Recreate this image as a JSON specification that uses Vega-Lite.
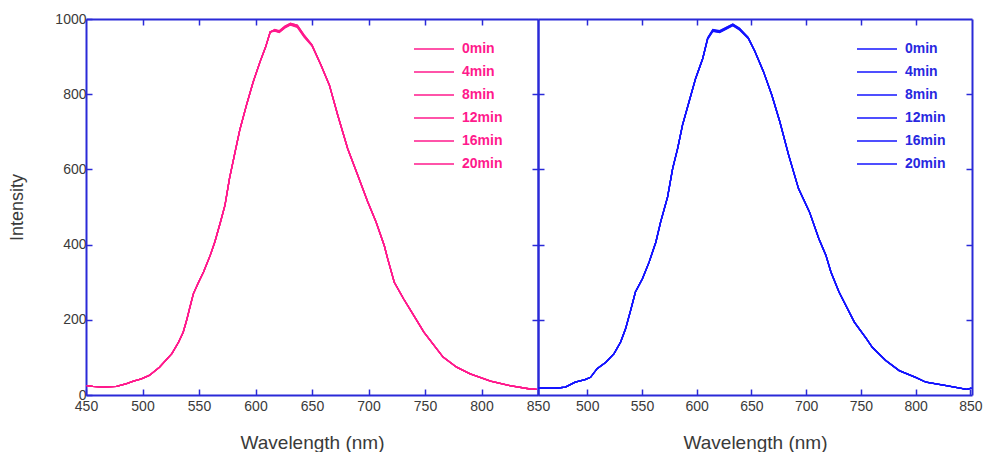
{
  "$schema": "https://vega.github.io/schema/vega-lite/v6.json",
  "padding": {"left": 8, "top": 12, "right": 5, "bottom": 0},
  "background": "white",
  "spacing": 0,
  "bounds": "flush",
  "datasets": {
    "left": [
      {"wl": 450.6, "0min": 25, "4min": 25, "8min": 25, "12min": 25, "16min": 25, "20min": 25},
      {"wl": 456, "0min": 23, "4min": 23, "8min": 23, "12min": 23, "16min": 23, "20min": 23},
      {"wl": 465, "0min": 21, "4min": 21, "8min": 21, "12min": 21, "16min": 21, "20min": 21},
      {"wl": 477, "0min": 23, "4min": 23, "8min": 23, "12min": 23, "16min": 23, "20min": 23},
      {"wl": 486, "0min": 30, "4min": 30, "8min": 30, "12min": 30, "16min": 30, "20min": 30},
      {"wl": 492, "0min": 37, "4min": 37, "8min": 37, "12min": 37, "16min": 37, "20min": 37},
      {"wl": 499, "0min": 43, "4min": 43, "8min": 43, "12min": 43, "16min": 43, "20min": 43},
      {"wl": 506, "0min": 52, "4min": 52, "8min": 52, "12min": 52, "16min": 52, "20min": 52},
      {"wl": 515, "0min": 74, "4min": 74, "8min": 74, "12min": 74, "16min": 74, "20min": 74},
      {"wl": 526, "0min": 110, "4min": 110, "8min": 110, "12min": 110, "16min": 110, "20min": 110},
      {"wl": 532, "0min": 141, "4min": 141, "8min": 141, "12min": 141, "16min": 141, "20min": 141},
      {"wl": 536, "0min": 167, "4min": 167, "8min": 167, "12min": 167, "16min": 167, "20min": 167},
      {"wl": 539, "0min": 198, "4min": 198, "8min": 198, "12min": 198, "16min": 198, "20min": 198},
      {"wl": 542, "0min": 234, "4min": 234, "8min": 234, "12min": 234, "16min": 234, "20min": 234},
      {"wl": 545, "0min": 269, "4min": 269, "8min": 269, "12min": 269, "16min": 269, "20min": 269},
      {"wl": 549, "0min": 296, "4min": 296, "8min": 296, "12min": 296, "16min": 296, "20min": 296},
      {"wl": 554, "0min": 327, "4min": 327, "8min": 327, "12min": 327, "16min": 327, "20min": 327},
      {"wl": 560, "0min": 372, "4min": 372, "8min": 372, "12min": 372, "16min": 372, "20min": 372},
      {"wl": 564, "0min": 407, "4min": 407, "8min": 407, "12min": 407, "16min": 407, "20min": 407},
      {"wl": 569, "0min": 460, "4min": 460, "8min": 460, "12min": 460, "16min": 460, "20min": 460},
      {"wl": 573, "0min": 505, "4min": 505, "8min": 505, "12min": 505, "16min": 505, "20min": 505},
      {"wl": 577, "0min": 576, "4min": 576, "8min": 576, "12min": 576, "16min": 576, "20min": 576},
      {"wl": 582, "0min": 647, "4min": 647, "8min": 647, "12min": 647, "16min": 647, "20min": 647},
      {"wl": 586, "0min": 704, "4min": 704, "8min": 704, "12min": 704, "16min": 704, "20min": 704},
      {"wl": 592, "0min": 771, "4min": 771, "8min": 771, "12min": 771, "16min": 771, "20min": 771},
      {"wl": 598, "0min": 833, "4min": 833, "8min": 833, "12min": 833, "16min": 833, "20min": 833},
      {"wl": 604, "0min": 886, "4min": 886, "8min": 886, "12min": 886, "16min": 886, "20min": 886},
      {"wl": 609, "0min": 926, "4min": 926, "8min": 926, "12min": 926, "16min": 926, "20min": 926},
      {"wl": 613, "0min": 966, "4min": 966, "8min": 965, "12min": 966, "16min": 964, "20min": 965},
      {"wl": 617, "0min": 971, "4min": 970, "8min": 972, "12min": 969, "16min": 971, "20min": 968},
      {"wl": 621, "0min": 968, "4min": 966, "8min": 969, "12min": 965, "16min": 967, "20min": 964},
      {"wl": 626, "0min": 980, "4min": 978, "8min": 981, "12min": 977, "16min": 979, "20min": 976},
      {"wl": 631, "0min": 988, "4min": 986, "8min": 989, "12min": 985, "16min": 987, "20min": 984},
      {"wl": 637, "0min": 984, "4min": 981, "8min": 983, "12min": 979, "16min": 982, "20min": 978},
      {"wl": 643, "0min": 957, "4min": 955, "8min": 958, "12min": 953, "16min": 956, "20min": 952},
      {"wl": 650, "0min": 931, "4min": 930, "8min": 931, "12min": 929, "16min": 930, "20min": 928},
      {"wl": 658, "0min": 877, "4min": 877, "8min": 877, "12min": 877, "16min": 877, "20min": 877},
      {"wl": 665.4, "0min": 824, "4min": 824, "8min": 824, "12min": 824, "16min": 824, "20min": 824},
      {"wl": 672.8, "0min": 744, "4min": 744, "8min": 744, "12min": 744, "16min": 744, "20min": 744},
      {"wl": 681.6, "0min": 655, "4min": 655, "8min": 655, "12min": 655, "16min": 655, "20min": 655},
      {"wl": 690.4, "0min": 585, "4min": 585, "8min": 585, "12min": 585, "16min": 585, "20min": 585},
      {"wl": 699.3, "0min": 514, "4min": 514, "8min": 514, "12min": 514, "16min": 514, "20min": 514},
      {"wl": 706.7, "0min": 460, "4min": 460, "8min": 460, "12min": 460, "16min": 460, "20min": 460},
      {"wl": 714, "0min": 397, "4min": 397, "8min": 397, "12min": 397, "16min": 397, "20min": 397},
      {"wl": 717, "0min": 362, "4min": 362, "8min": 362, "12min": 362, "16min": 362, "20min": 362},
      {"wl": 722.8, "0min": 300, "4min": 300, "8min": 300, "12min": 300, "16min": 300, "20min": 300},
      {"wl": 731, "0min": 256, "4min": 256, "8min": 256, "12min": 256, "16min": 256, "20min": 256},
      {"wl": 740, "0min": 212, "4min": 212, "8min": 212, "12min": 212, "16min": 212, "20min": 212},
      {"wl": 749, "0min": 167, "4min": 167, "8min": 167, "12min": 167, "16min": 167, "20min": 167},
      {"wl": 758, "0min": 132, "4min": 132, "8min": 132, "12min": 132, "16min": 132, "20min": 132},
      {"wl": 766, "0min": 101, "4min": 101, "8min": 101, "12min": 101, "16min": 101, "20min": 101},
      {"wl": 778, "0min": 74, "4min": 74, "8min": 74, "12min": 74, "16min": 74, "20min": 74},
      {"wl": 790, "0min": 56, "4min": 56, "8min": 56, "12min": 56, "16min": 56, "20min": 56},
      {"wl": 808, "0min": 37, "4min": 37, "8min": 37, "12min": 37, "16min": 37, "20min": 37},
      {"wl": 825, "0min": 25, "4min": 25, "8min": 25, "12min": 25, "16min": 25, "20min": 25},
      {"wl": 843, "0min": 16, "4min": 16, "8min": 16, "12min": 16, "16min": 16, "20min": 16},
      {"wl": 849, "0min": 15, "4min": 15, "8min": 15, "12min": 15, "16min": 15, "20min": 15}
    ],
    "right": [
      {"wl": 455.5, "0min": 18, "4min": 18, "8min": 18, "12min": 18, "16min": 18, "20min": 18},
      {"wl": 470.8, "0min": 18, "4min": 18, "8min": 18, "12min": 18, "16min": 18, "20min": 18},
      {"wl": 480, "0min": 21, "4min": 21, "8min": 21, "12min": 21, "16min": 21, "20min": 21},
      {"wl": 489, "0min": 34, "4min": 34, "8min": 34, "12min": 34, "16min": 34, "20min": 34},
      {"wl": 498, "0min": 41, "4min": 41, "8min": 41, "12min": 41, "16min": 41, "20min": 41},
      {"wl": 503, "0min": 47, "4min": 47, "8min": 47, "12min": 47, "16min": 47, "20min": 47},
      {"wl": 509, "0min": 70, "4min": 70, "8min": 70, "12min": 70, "16min": 70, "20min": 70},
      {"wl": 517, "0min": 87, "4min": 87, "8min": 87, "12min": 87, "16min": 87, "20min": 87},
      {"wl": 524.5, "0min": 110, "4min": 110, "8min": 110, "12min": 110, "16min": 110, "20min": 110},
      {"wl": 530.5, "0min": 141, "4min": 141, "8min": 141, "12min": 141, "16min": 141, "20min": 141},
      {"wl": 535, "0min": 176, "4min": 176, "8min": 176, "12min": 176, "16min": 176, "20min": 176},
      {"wl": 540, "0min": 229, "4min": 229, "8min": 229, "12min": 229, "16min": 229, "20min": 229},
      {"wl": 544, "0min": 274, "4min": 274, "8min": 274, "12min": 274, "16min": 274, "20min": 274},
      {"wl": 550.4, "0min": 309, "4min": 309, "8min": 309, "12min": 309, "16min": 309, "20min": 309},
      {"wl": 556.6, "0min": 354, "4min": 354, "8min": 354, "12min": 354, "16min": 354, "20min": 354},
      {"wl": 562.7, "0min": 407, "4min": 407, "8min": 407, "12min": 407, "16min": 407, "20min": 407},
      {"wl": 567, "0min": 460, "4min": 460, "8min": 460, "12min": 460, "16min": 460, "20min": 460},
      {"wl": 573.4, "0min": 527, "4min": 527, "8min": 527, "12min": 527, "16min": 527, "20min": 527},
      {"wl": 578, "0min": 602, "4min": 602, "8min": 602, "12min": 602, "16min": 602, "20min": 602},
      {"wl": 582.6, "0min": 656, "4min": 656, "8min": 656, "12min": 656, "16min": 656, "20min": 656},
      {"wl": 587, "0min": 718, "4min": 718, "8min": 718, "12min": 718, "16min": 718, "20min": 718},
      {"wl": 593, "0min": 780, "4min": 780, "8min": 780, "12min": 780, "16min": 780, "20min": 780},
      {"wl": 599, "0min": 842, "4min": 842, "8min": 842, "12min": 842, "16min": 842, "20min": 842},
      {"wl": 605.5, "0min": 895, "4min": 895, "8min": 895, "12min": 895, "16min": 895, "20min": 895},
      {"wl": 610, "0min": 949, "4min": 948, "8min": 950, "12min": 947, "16min": 949, "20min": 946},
      {"wl": 614.7, "0min": 971, "4min": 969, "8min": 972, "12min": 968, "16min": 970, "20min": 967},
      {"wl": 621, "0min": 968, "4min": 966, "8min": 969, "12min": 965, "16min": 967, "20min": 964},
      {"wl": 627, "0min": 977, "4min": 975, "8min": 978, "12min": 974, "16min": 976, "20min": 973},
      {"wl": 633, "0min": 986, "4min": 984, "8min": 987, "12min": 983, "16min": 985, "20min": 982},
      {"wl": 639, "0min": 975, "4min": 973, "8min": 976, "12min": 972, "16min": 974, "20min": 971},
      {"wl": 647, "0min": 951, "4min": 950, "8min": 951, "12min": 949, "16min": 950, "20min": 948},
      {"wl": 653, "0min": 915, "4min": 915, "8min": 915, "12min": 915, "16min": 915, "20min": 915},
      {"wl": 661, "0min": 860, "4min": 860, "8min": 860, "12min": 860, "16min": 860, "20min": 860},
      {"wl": 668.6, "0min": 798, "4min": 798, "8min": 798, "12min": 798, "16min": 798, "20min": 798},
      {"wl": 676, "0min": 726, "4min": 726, "8min": 726, "12min": 726, "16min": 726, "20min": 726},
      {"wl": 684, "0min": 638, "4min": 638, "8min": 638, "12min": 638, "16min": 638, "20min": 638},
      {"wl": 693, "0min": 549, "4min": 549, "8min": 549, "12min": 549, "16min": 549, "20min": 549},
      {"wl": 703, "0min": 487, "4min": 487, "8min": 487, "12min": 487, "16min": 487, "20min": 487},
      {"wl": 711.5, "0min": 416, "4min": 416, "8min": 416, "12min": 416, "16min": 416, "20min": 416},
      {"wl": 718, "0min": 372, "4min": 372, "8min": 372, "12min": 372, "16min": 372, "20min": 372},
      {"wl": 722.6, "0min": 327, "4min": 327, "8min": 327, "12min": 327, "16min": 327, "20min": 327},
      {"wl": 730, "0min": 274, "4min": 274, "8min": 274, "12min": 274, "16min": 274, "20min": 274},
      {"wl": 744, "0min": 194, "4min": 194, "8min": 194, "12min": 194, "16min": 194, "20min": 194},
      {"wl": 755, "0min": 150, "4min": 150, "8min": 150, "12min": 150, "16min": 150, "20min": 150},
      {"wl": 760.4, "0min": 127, "4min": 127, "8min": 127, "12min": 127, "16min": 127, "20min": 127},
      {"wl": 772.7, "0min": 92, "4min": 92, "8min": 92, "12min": 92, "16min": 92, "20min": 92},
      {"wl": 785, "0min": 65, "4min": 65, "8min": 65, "12min": 65, "16min": 65, "20min": 65},
      {"wl": 800, "0min": 47, "4min": 47, "8min": 47, "12min": 47, "16min": 47, "20min": 47},
      {"wl": 809.5, "0min": 34, "4min": 34, "8min": 34, "12min": 34, "16min": 34, "20min": 34},
      {"wl": 828, "0min": 25, "4min": 25, "8min": 25, "12min": 25, "16min": 25, "20min": 25},
      {"wl": 846.6, "0min": 15, "4min": 15, "8min": 15, "12min": 15, "16min": 15, "20min": 15},
      {"wl": 851, "0min": 18, "4min": 18, "8min": 18, "12min": 18, "16min": 18, "20min": 18}
    ]
  },
  "config": {
    "view": {"stroke": null},
    "axis": {
      "domainColor": "#2a2ad8", "domainWidth": 2, "tickColor": "#2a2ad8", "tickWidth": 1.5, "tickSize": -6,
      "grid": false, "labelFont": "Liberation Sans", "labelFontSize": 14, "labelColor": "#3a3a3a",
      "titleFont": "Liberation Sans", "titleColor": "#3a3a3a", "titleFontWeight": "normal"
    },
    "legend": {
      "orient": "none", "symbolType": "stroke", "symbolSize": 1600, "symbolStrokeWidth": 1.5,
      "labelFont": "Liberation Sans", "labelFontSize": 14, "labelFontWeight": "bold",
      "rowPadding": 7, "clipHeight": 16, "padding": 0, "labelOffset": 7, "title": null
    }
  },
  "hconcat": [
    {
      "width": 452, "height": 376,
      "data": {"name": "left"},
      "transform": [{"fold": ["0min", "4min", "8min", "12min", "16min", "20min"], "as": ["t", "i"]}],
      "layer": [
        {
          "mark": {"type": "line", "strokeWidth": 1.3, "clip": true},
          "encoding": {
            "x": {"field": "wl", "type": "quantitative", "scale": {"domain": [450, 850], "nice": false},
                  "axis": {"orient": "bottom", "values": [450, 500, 550, 600, 650, 700, 750, 800, 850], "title": "Wavelength (nm)", "titleFontSize": 19, "titlePadding": 20, "labelPadding": 10, "labelFlush": false, "labelOverlap": false}},
            "y": {"field": "i", "type": "quantitative", "scale": {"domain": [0, 1000], "nice": false},
                  "axis": {"orient": "left", "format": "d", "values": [0, 200, 400, 600, 800, 1000], "title": "Intensity", "titleFontSize": 18, "titlePadding": 10, "labelPadding": 6, "minExtent": 50, "maxExtent": 50}},
            "color": {"field": "t", "type": "nominal",
                      "scale": {"domain": ["0min", "4min", "8min", "12min", "16min", "20min"], "range": ["#ff1a8c", "#ff1a8c", "#ff1a8c", "#ff1a8c", "#ff1a8c", "#ff1a8c"]},
                      "legend": {"legendX": 327, "legendY": 22, "labelColor": "#ff1a8c"}}
          }
        },
        {
          "mark": {"type": "line", "opacity": 0},
          "encoding": {
            "x": {"field": "wl", "type": "quantitative", "scale": {"domain": [450, 850], "nice": false},
                  "axis": {"orient": "top", "values": [500, 550, 600, 650, 700, 750, 800], "labels": false, "title": null}},
            "y": {"field": "i", "type": "quantitative", "scale": {"domain": [0, 1000], "nice": false},
                  "axis": {"orient": "right", "values": [200, 400, 600, 800], "labels": false, "title": null}}
          }
        }
      ],
      "resolve": {"axis": {"x": "independent", "y": "independent"}}
    },
    {
      "width": 434, "height": 376,
      "data": {"name": "right"},
      "transform": [{"fold": ["0min", "4min", "8min", "12min", "16min", "20min"], "as": ["t", "i"]}],
      "layer": [
        {
          "mark": {"type": "line", "strokeWidth": 1.3, "clip": true},
          "encoding": {
            "x": {"field": "wl", "type": "quantitative", "scale": {"domain": [455, 851.5], "nice": false},
                  "axis": {"orient": "bottom", "values": [500, 550, 600, 650, 700, 750, 800, 850], "title": "Wavelength (nm)", "titleFontSize": 19, "titlePadding": 20, "labelPadding": 10, "labelFlush": false, "labelOverlap": false}},
            "y": {"field": "i", "type": "quantitative", "scale": {"domain": [0, 1000], "nice": false},
                  "axis": {"orient": "left", "values": [200, 400, 600, 800], "labels": false, "title": null}},
            "color": {"field": "t", "type": "nominal",
                      "scale": {"domain": ["0min", "4min", "8min", "12min", "16min", "20min"], "range": ["#1414ff", "#1414ff", "#1414ff", "#1414ff", "#1414ff", "#1414ff"]},
                      "legend": {"legendX": 318, "legendY": 22, "labelColor": "#2828e0"}}
          }
        },
        {
          "mark": {"type": "line", "opacity": 0},
          "encoding": {
            "x": {"field": "wl", "type": "quantitative", "scale": {"domain": [455, 851.5], "nice": false},
                  "axis": {"orient": "top", "values": [500, 550, 600, 650, 700, 750, 800], "labels": false, "title": null}},
            "y": {"field": "i", "type": "quantitative", "scale": {"domain": [0, 1000], "nice": false},
                  "axis": {"orient": "right", "values": [200, 400, 600, 800], "labels": false, "title": null}}
          }
        }
      ],
      "resolve": {"axis": {"x": "independent", "y": "independent"}}
    }
  ],
  "resolve": {"scale": {"color": "independent", "x": "independent"}}
}
